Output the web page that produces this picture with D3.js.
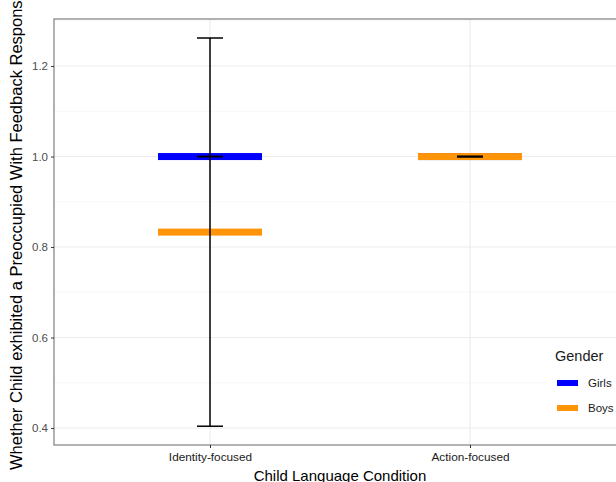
<!DOCTYPE html>
<html>
<head>
<meta charset="utf-8">
<script src="https://cdn.jsdelivr.net/npm/d3@7"></script>
<style>
  body { margin: 0; background: #fff; }
  svg { font-family: "Liberation Sans", Arial, sans-serif; }
</style>
</head>
<body>
<svg id="chart" width="616" height="482"></svg>
<script>
// Data
const conditions = ['Identity-focused', 'Action-focused'];
const genders = ['Girls', 'Boys'];
const girlsMean = [1.0, 1.0];
const girlsSE = [0, 0];
const boysMean = [0.833, 1.0];
const boysSE = [0.429, 0];
const yTicks = [0.4, 0.6, 0.8, 1.0, 1.2];
const yMinor = [0.5, 0.7, 0.9, 1.1, 1.3];
const colors = { Girls: '#0000ff', Boys: '#ff9408' };

const svg = d3.select('#chart');

// Panel geometry (ggplot style, discrete axis expanded by 0.6)
const panel = { left: 54, top: 19, right: 626, bottom: 445 };

const x = d3.scaleLinear()
  .domain([0.4, 2.6])
  .range([panel.left, panel.right]);

const y = d3.scaleLinear()
  .domain([0.3625, 1.304])
  .range([panel.bottom, panel.top]);

// Build rows
const rows = [];
conditions.forEach((c, i) => {
  rows.push({ cond: c, pos: i + 1, gender: 'Girls', mean: girlsMean[i], se: girlsSE[i] });
  rows.push({ cond: c, pos: i + 1, gender: 'Boys', mean: boysMean[i], se: boysSE[i] });
});

svg.append('clipPath').attr('id', 'panel-clip')
  .append('rect')
    .attr('x', panel.left)
    .attr('y', panel.top)
    .attr('width', panel.right - panel.left)
    .attr('height', panel.bottom - panel.top);

const plot = svg.append('g').attr('clip-path', 'url(#panel-clip)');

// Grid lines
plot.selectAll('.minor')
  .data(yMinor)
  .join('line')
    .attr('x1', panel.left).attr('x2', panel.right)
    .attr('y1', d => y(d)).attr('y2', d => y(d))
    .attr('stroke', '#f2f2f2').attr('stroke-width', 0.6);

plot.selectAll('.major-y')
  .data(yTicks)
  .join('line')
    .attr('x1', panel.left).attr('x2', panel.right)
    .attr('y1', d => y(d)).attr('y2', d => y(d))
    .attr('stroke', '#ebebeb').attr('stroke-width', 1.1);

plot.selectAll('.major-x')
  .data(conditions)
  .join('line')
    .attr('x1', (d, i) => x(i + 1)).attr('x2', (d, i) => x(i + 1))
    .attr('y1', panel.top).attr('y2', panel.bottom)
    .attr('stroke', '#ebebeb').attr('stroke-width', 1.1);

// Mean bars (thin crossbars)
const barW = 0.4;
const barH = 7;
plot.selectAll('.mean-bar')
  .data(rows)
  .join('rect')
    .attr('x', d => x(d.pos - barW / 2))
    .attr('y', d => y(d.mean) - barH / 2)
    .attr('width', x(1 + barW) - x(1))
    .attr('height', barH)
    .attr('fill', d => colors[d.gender]);

// Error bars
const capW = 0.1;
const eb = plot.selectAll('.errbar')
  .data(rows)
  .join('g');

eb.append('line')
  .attr('x1', d => x(d.pos)).attr('x2', d => x(d.pos))
  .attr('y1', d => y(d.mean - d.se)).attr('y2', d => y(d.mean + d.se))
  .attr('stroke', '#000').attr('stroke-width', 1.5);

eb.append('line')
  .attr('x1', d => x(d.pos - capW / 2)).attr('x2', d => x(d.pos + capW / 2))
  .attr('y1', d => y(d.mean - d.se)).attr('y2', d => y(d.mean - d.se))
  .attr('stroke', '#000').attr('stroke-width', 1.5);

eb.append('line')
  .attr('x1', d => x(d.pos - capW / 2)).attr('x2', d => x(d.pos + capW / 2))
  .attr('y1', d => y(d.mean + d.se)).attr('y2', d => y(d.mean + d.se))
  .attr('stroke', '#000').attr('stroke-width', 1.5);

// Legend (inside panel, white background)
const legend = svg.append('g').attr('transform', 'translate(548,338)');
legend.append('rect')
  .attr('x', 0).attr('y', 0)
  .attr('width', 80).attr('height', 84)
  .attr('fill', '#fff');
legend.append('text')
  .attr('x', 7).attr('y', 23)
  .attr('font-size', 14.5)
  .attr('fill', '#1a1a1a')
  .text('Gender');
const item = legend.selectAll('.legend-item')
  .data(genders)
  .join('g')
    .attr('transform', (d, i) => `translate(9,${45 + i * 25})`);
item.append('rect')
  .attr('x', 0).attr('y', -3)
  .attr('width', 21).attr('height', 6)
  .attr('fill', d => colors[d]);
item.append('text')
  .attr('x', 31).attr('y', 4)
  .attr('font-size', 11.5)
  .attr('fill', '#1a1a1a')
  .text(d => d);

// Panel border
svg.append('rect')
  .attr('x', panel.left).attr('y', panel.top)
  .attr('width', panel.right - panel.left)
  .attr('height', panel.bottom - panel.top)
  .attr('fill', 'none')
  .attr('stroke', '#7f7f7f')
  .attr('stroke-width', 1.2);

// Y axis
const yAxis = svg.append('g')
  .attr('transform', `translate(${panel.left},0)`)
  .call(d3.axisLeft(y).tickValues(yTicks).tickFormat(d3.format('.1f')).tickSize(3).tickPadding(3));
yAxis.select('.domain').remove();
yAxis.selectAll('.tick line').attr('stroke', '#333');
yAxis.selectAll('.tick text').attr('font-size', 11.5).attr('fill', '#4d4d4d')
  .attr('font-family', '"Liberation Sans", Arial, sans-serif');

// X axis
const xAxis = svg.append('g')
  .attr('transform', `translate(0,${panel.bottom})`)
  .call(d3.axisBottom(x).tickValues([1, 2]).tickFormat(d => conditions[d - 1]).tickSize(3).tickPadding(5));
xAxis.select('.domain').remove();
xAxis.selectAll('.tick line').attr('stroke', '#333');
xAxis.selectAll('.tick text').attr('font-size', 11.8).attr('fill', '#1a1a1a')
  .attr('font-family', '"Liberation Sans", Arial, sans-serif');

// Axis titles
svg.append('text')
  .attr('x', (panel.left + panel.right) / 2)
  .attr('y', 481)
  .attr('text-anchor', 'middle')
  .attr('font-size', 15)
  .attr('fill', '#000')
  .text('Child Language Condition');

svg.append('text')
  .attr('transform', 'translate(22,470) rotate(-90)')
  .attr('text-anchor', 'start')
  .attr('font-size', 16.5)
  .attr('fill', '#000')
  .text('Whether Child exhibited a Preoccupied With Feedback Response');
</script>
</body>
</html>
